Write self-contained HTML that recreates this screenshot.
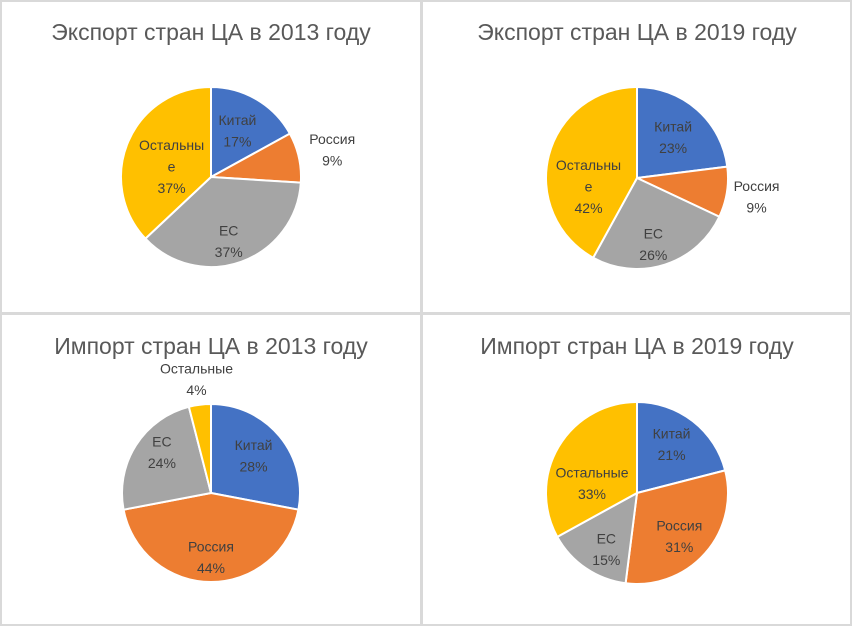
<!DOCTYPE html>
<html><head><meta charset="utf-8"><style>
body{margin:0;background:#fff;}
svg{display:block;font-family:"Liberation Sans","DejaVu Sans",sans-serif;}
</style></head><body>
<svg id="c" width="852" height="626" viewBox="0 0 852 626">
<rect x="0" y="0" width="852" height="626" fill="#fff"/>
<rect x="1" y="1" width="850" height="624" fill="none" stroke="#d9d9d9" stroke-width="2"/>
<rect x="420" y="0" width="3" height="626" fill="#d9d9d9"/>
<rect x="0" y="312" width="852" height="3" fill="#d9d9d9"/>
</svg>
<script>
const categories=["Китай","Россия","ЕС","Остальные"];
const titles=["Экспорт стран ЦА в 2013 году","Экспорт стран ЦА в 2019 году","Импорт стран ЦА в 2013 году","Импорт стран ЦА в 2019 году"];
const export2013=[17,9,37,37];
const export2019=[23,9,26,42];
const import2013=[28,44,24,4];
const import2019=[21,31,15,33];
const series=[export2013,export2019,import2013,import2019];
const colors=["#4472c4","#ed7d31","#a5a5a5","#ffc000"];
const layout=[{cx:211,cy:177,r:90,ty:40},{cx:637,cy:178,r:91,ty:40},{cx:211,cy:493,r:89,ty:354},{cx:637,cy:493,r:91,ty:354}];
const labelNames=[
 [["Китай"],["Россия"],["ЕС"],["Остальны","е"]],
 [["Китай"],["Россия"],["ЕС"],["Остальны","е"]],
 [["Китай"],["Россия"],["ЕС"],["Остальные"]],
 [["Китай"],["Россия"],["ЕС"],["Остальные"]]];
const labelR=[[0.62,1.38,0.58,0.55],[0.6,1.33,0.58,0.55],[0.62,0.6,0.6,1.3],[0.62,0.62,0.6,0.6]];
const nudgeX=[[-2,0,0,6],[0,0,0,0],[0,0,-4,0],[0,0,0,2]];
const nudgeY=[[2,0,15,9],[0,0,16,21],[-2,11,-12,1],[-4,6,11,18]];
function mk(t,a){const e=document.createElementNS('http://www.w3.org/2000/svg',t);for(const k in a)e.setAttribute(k,a[k]);document.getElementById('c').appendChild(e);return e;}
function pt(L,frac,f){const a=frac*2*Math.PI;return [L.cx+Math.sin(a)*L.r*f,L.cy-Math.cos(a)*L.r*f];}
series.forEach((vals,ci)=>{
 const L=layout[ci];
 const t=mk('text',{x:L.cx,y:L.ty,'text-anchor':'middle','font-size':'23',fill:'#595959'});
 t.textContent=titles[ci];
 
 
 const total=vals.reduce((a,b)=>a+b,0);
 let acc=0;
 vals.forEach((v,i)=>{
  const s=acc/total,e=(acc+v)/total;acc+=v;
  const p0=pt(L,s,1),p1=pt(L,e,1);
  const large=(e-s)>0.5?1:0;
  const p=mk('path',{d:`M${L.cx},${L.cy}L${p0[0]},${p0[1]}A${L.r},${L.r} 0 ${large} 1 ${p1[0]},${p1[1]}Z`,fill:colors[i],stroke:'#fff','stroke-width':'2'});
  
  
  const m=(s+e)/2;const lp=pt(L,m,labelR[ci][i]);
  const x=lp[0]+nudgeX[ci][i];
  const lines=labelNames[ci][i].concat([v+'%']);
  const lh=21.5;const y0=lp[1]-(lines.length-1)*lh/2+5+nudgeY[ci][i];
  const tx=mk('text',{x:x,y:y0,'text-anchor':'middle','font-size':'14',fill:'#404040'});
  
  
  lines.forEach((ln,j)=>{const ts=document.createElementNS('http://www.w3.org/2000/svg','tspan');ts.setAttribute('x',x);ts.setAttribute('y',y0+j*lh);ts.textContent=ln;tx.appendChild(ts);});
 });
});
</script>
</body></html>
